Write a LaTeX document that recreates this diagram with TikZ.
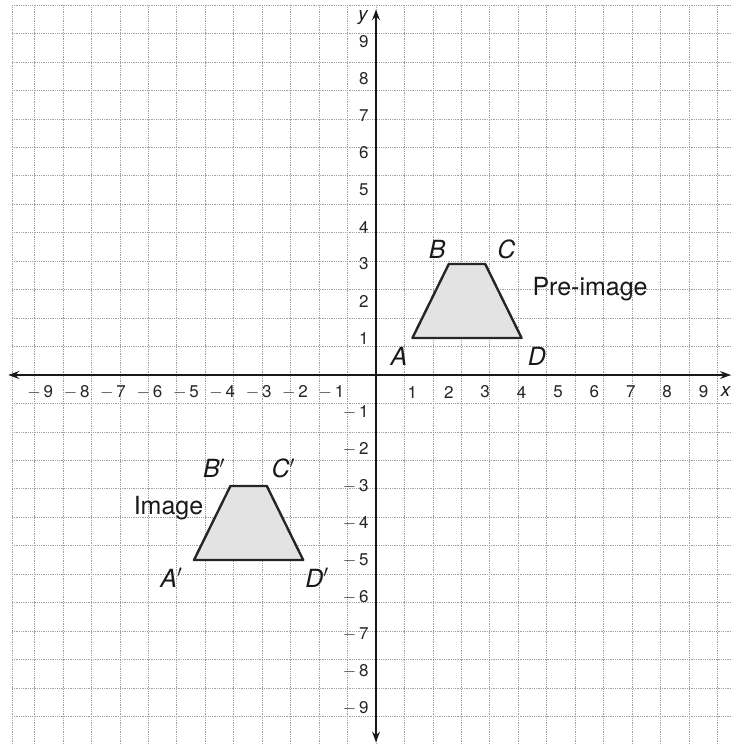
\documentclass[tikz,border=0pt]{standalone}
\usepackage{fontspec}
\setmainfont{TeX Gyre Heros}
\usetikzlibrary{arrows.meta}
\newcommand{\pr}{\ensuremath{{}^{\prime}}}
\begin{document}
\begin{tikzpicture}[x=36.4pt,y=37pt,
  gridline/.style={gray!75, densely dotted, line width=0.8pt},
  axisline/.style={black!90, line width=1.4pt},
  tip/.style={-{Stealth[length=11pt,width=8pt,inset=4pt]}},
  shapeline/.style={line width=2.4pt, draw=black!85, fill=gray!22, line join=round},
  ticklab/.style={font=\fontsize{17}{20}\selectfont, inner sep=0pt, text=black!85},
  ptlab/.style={font=\fontsize{25}{30}\selectfont\itshape, inner sep=0pt, anchor=base, text=black!90},
  txtlab/.style={font=\fontsize{25}{30}\selectfont, inner sep=0pt, anchor=base, text=black!90},
  axlab/.style={font=\fontsize{19}{22}\selectfont\itshape, inner sep=0pt, text=black!90}]
\useasboundingbox (-10.33,-9.973) rectangle (9.753,10.135);
% grid
\draw[gridline] (-10,-9.973) grid (9.753,10);
\draw[gridline] (-10,-9.973) -- (-10,10);
% axes
\coordinate (origin) at (0,0);
\coordinate (xleft) at (-10.1,0);
\coordinate (xright) at (9.75,0);
\coordinate (ytop) at (0,9.88);
\coordinate (ybottom) at (0,-9.93);
\draw[axisline,tip] (origin) -- (xright);
\draw[axisline,tip] (origin) -- (xleft);
\draw[axisline,tip] (origin) -- (ytop);
\draw[axisline,tip] (origin) -- (ybottom);
\node[axlab,anchor=east] (xlab) at (9.74,-0.45) {x};
\node[axlab] (ylab) at (-0.36,9.65) {y};
% tick labels
\foreach \i in {1,...,9} {
  \node[ticklab] (xp\i) at (\i,-0.46) {\i};
  \node[ticklab] (xn\i) at (-\i,-0.46) {\llap{$-$\,}\i};
  \node[ticklab,anchor=east] (yp\i) at (-0.2,\i) {\i};
  \node[ticklab,anchor=east] (yn\i) at (-0.2,-\i) {$-$\,\i};
}
% pre-image
\coordinate (A) at (1,1);
\coordinate (B) at (2,3);
\coordinate (C) at (3,3);
\coordinate (D) at (4,1);
\draw[shapeline] (A) -- (B) -- (C) -- (D) -- cycle;
\node[ptlab] (lA) at (0.63,0.27) {A};
\node[ptlab] (lB) at (1.68,3.16) {B};
\node[ptlab] (lC) at (3.58,3.16) {C};
\node[ptlab] (lD) at (4.42,0.27) {D};
\node[txtlab] (pre) at (5.88,2.16) {Pre-image};
% image
\coordinate (A1) at (-5,-5);
\coordinate (B1) at (-4,-3);
\coordinate (C1) at (-3,-3);
\coordinate (D1) at (-2,-5);
\draw[shapeline] (A1) -- (B1) -- (C1) -- (D1) -- cycle;
\node[ptlab] (lA1) at (-5.62,-5.73) {A\pr};
\node[ptlab] (lB1) at (-4.45,-2.78) {B\pr};
\node[ptlab] (lC1) at (-2.55,-2.78) {C\pr};
\node[ptlab] (lD1) at (-1.62,-5.73) {D\pr};
\node[txtlab] (img) at (-5.7,-3.78) {Image};
\end{tikzpicture}
\end{document}
